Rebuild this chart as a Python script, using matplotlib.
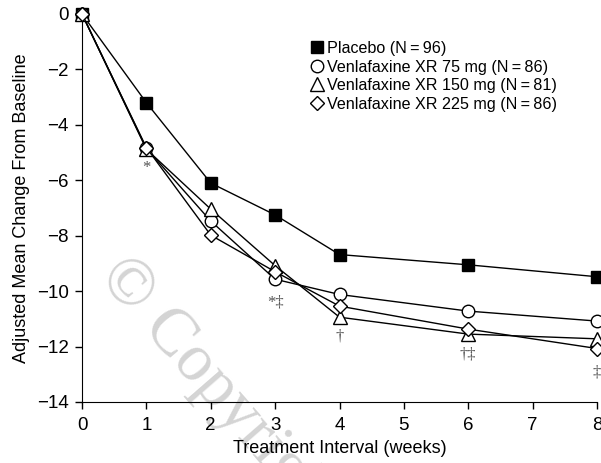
import matplotlib
matplotlib.use("Agg")
import matplotlib.pyplot as plt

plt.rcParams["font.family"] = ["Liberation Sans", "DejaVu Sans"]

# ── data ──
weeks = [0, 1, 2, 3, 4, 6, 8]
placebo = [0, -3.2, -6.1, -7.25, -8.68, -9.05, -9.48]
vxr_75 = [0, -4.85, -7.47, -9.57, -10.12, -10.72, -11.08]
vxr_150 = [0, -4.88, -7.04, -9.08, -10.94, -11.55, -11.72]
vxr_225 = [0, -4.82, -7.98, -9.3, -10.54, -11.37, -12.07]

series_labels = [
    "Placebo (N\u2009=\u200996)",
    "Venlafaxine XR 75 mg (N\u2009=\u200986)",
    "Venlafaxine XR 150 mg (N\u2009=\u200981)",
    "Venlafaxine XR 225 mg (N\u2009=\u200986)",
]

# significance marks: (week, y, text)
sig_x = [1, 3, 4, 6, 8]
sig_y = [-5.55, -10.4, -11.65, -12.3, -12.95]
sig_text = ["*", "*\u2021", "\u2020", "\u2020\u2021", "\u2021"]

# ── figure ──
fig = plt.figure(figsize=(6.01, 4.63), dpi=100)
ax = fig.add_axes([82 / 601, 1 - 402 / 463, 515 / 601, 388 / 463])
ax.patch.set_alpha(0)

# watermark behind everything
fig.text(110 / 601, 1 - 266 / 463, "\u00a9 Copyright", fontsize=48,
         family="Liberation Serif", color="#d4d4d4", rotation=-49,
         rotation_mode="anchor", ha="left", va="center", zorder=-5)

styles = [
    dict(marker="s", markersize=8.5, markerfacecolor="black"),
    dict(marker="o", markersize=9, markerfacecolor="white"),
    dict(marker="^", markersize=10, markerfacecolor="white"),
    dict(marker="D", markersize=7.5, markerfacecolor="white"),
]
for ys, lab, st in zip([placebo, vxr_75, vxr_150, vxr_225], series_labels, styles):
    ax.plot(weeks, ys, color="black", linewidth=1.0, markeredgecolor="black",
            markeredgewidth=1.0, label=lab, clip_on=False, zorder=3, **st)

for x, y, t in zip(sig_x, sig_y, sig_text):
    ax.text(x, y, t, ha="center", va="center", fontsize=12, color="#555555",
            family=["Liberation Serif", "DejaVu Serif"], linespacing=0.9)

ax.set_xlim(0, 8)
ax.set_ylim(-14, 0)
ax.set_xticks(range(0, 9))
ax.set_yticks(range(-14, 1, 2))
ax.set_yticklabels(["\u2212" + str(-v) if v < 0 else str(v) for v in range(-14, 1, 2)])
ax.tick_params(direction="out", length=5, width=1, labelsize=13.5, pad=4.5)
ax.tick_params(axis="x", pad=6)
for s in ["top", "right"]:
    ax.spines[s].set_visible(False)
ax.set_xlabel("Treatment Interval (weeks)", fontsize=13, labelpad=4)
ax.set_ylabel("Adjusted Mean Change From Baseline", fontsize=13, labelpad=5)

leg = ax.legend(loc="upper left", bbox_to_anchor=(311 / 601, 1 - 41 / 463),
                bbox_transform=fig.transFigure, frameon=False, fontsize=11.6,
                handlelength=0.7, handletextpad=0.3, labelspacing=0.22,
                borderpad=0, borderaxespad=0)
for h in leg.legend_handles:
    h.set_linestyle("none")

fig.savefig("out.png", dpi=100)
